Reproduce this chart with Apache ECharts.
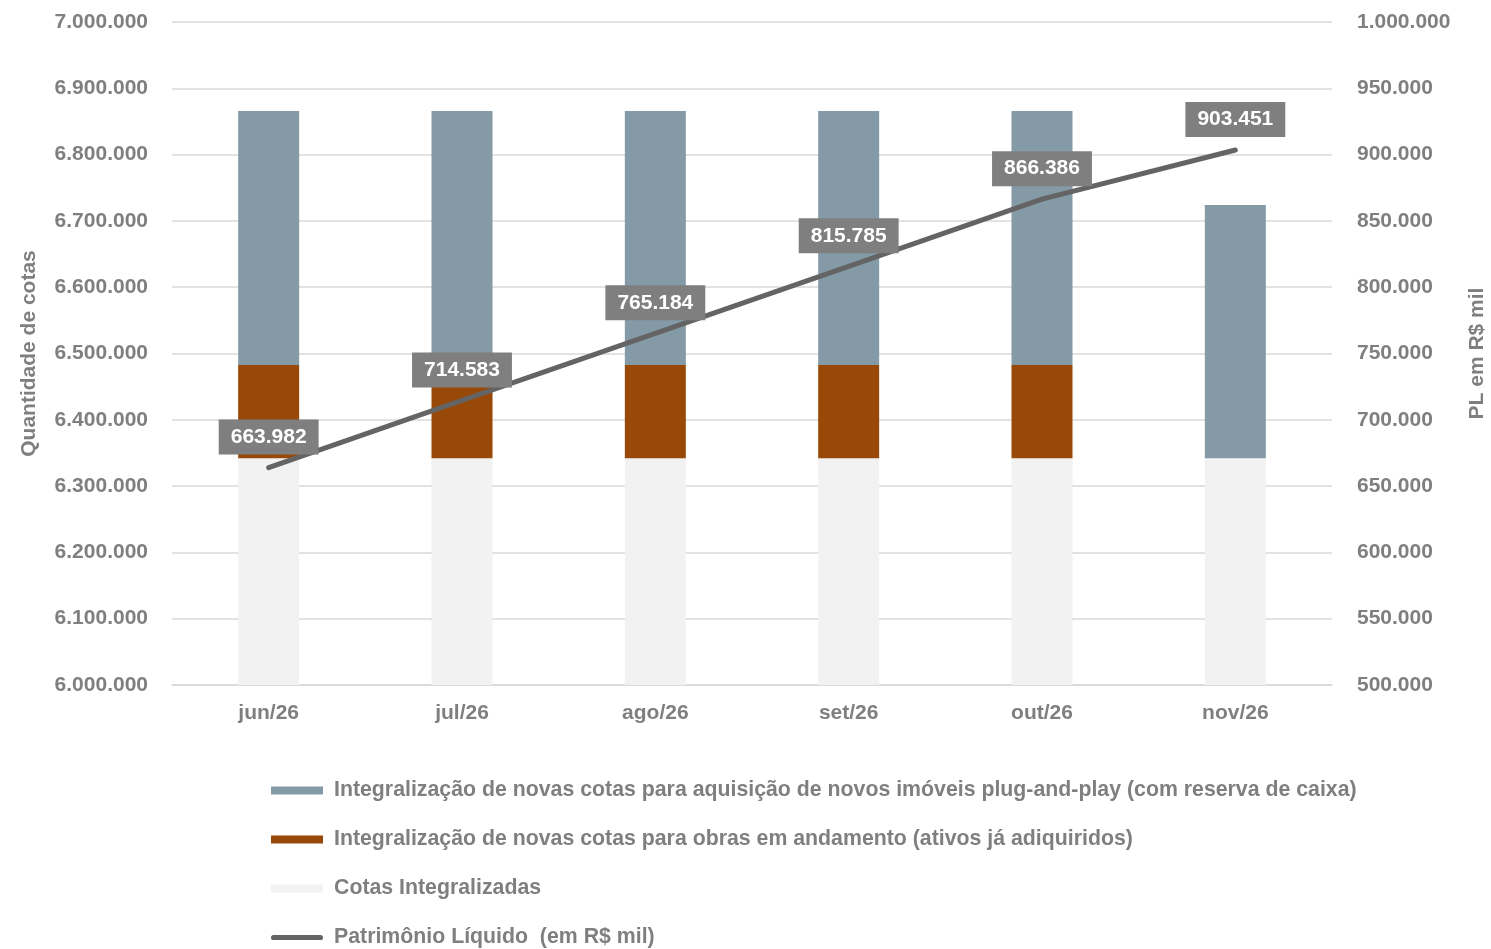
<!DOCTYPE html>
<html>
<head>
<meta charset="utf-8">
<script src="https://cdn.jsdelivr.net/npm/echarts@6/dist/echarts.min.js"></script>
<style>html,body{margin:0;padding:0;background:#fff}#c{width:1491px;height:949px}</style>
</head>
<body>
<div id="c"></div>
<script>
const categories = ['jun/26', 'jul/26', 'ago/26', 'set/26', 'out/26', 'nov/26'];
const cotasIntegralizadas = [6342000, 6342000, 6342000, 6342000, 6342000, 6342000];
const obrasAndamento = [140700, 140700, 140700, 140700, 140700, 0];
const novosImoveis = [383000, 383000, 383000, 383000, 383000, 382000];
const patrimonioLiquido = [663982, 714583, 765184, 815785, 866386, 903451];

const nameBlue = 'Integralização de novas cotas para aquisição de novos imóveis plug-and-play (com reserva de caixa)';
const nameOrange = 'Integralização de novas cotas para obras em andamento (ativos já adiquiridos)';
const nameGray = 'Cotas Integralizadas';
const nameLine = 'Patrimônio Líquido  (em R$ mil)';

function fmt(v) {
  return String(Math.round(v)).replace(/\B(?=(\d{3})+(?!\d))/g, '.');
}
const FONT = 'Arial, "Liberation Sans", sans-serif';
const GRAY = '#7f7f7f';
const LINE_ICON = 'path://M0,0 M52,8 M2.5,1.4 L49.5,1.4 A2.6,2.6 0 0 1 49.5,6.6 L2.5,6.6 A2.6,2.6 0 0 1 2.5,1.4 Z';

const chart = echarts.init(document.getElementById('c'), null, {renderer: 'canvas'});
chart.setOption({
  animation: false,
  textStyle: {fontFamily: FONT},
  grid: {left: 172, right: 159, top: 22, bottom: 264, containLabel: false, outerBoundsMode: 'none'},
  legend: {
    orient: 'vertical',
    left: 271,
    top: 780,
    padding: 0,
    itemGap: 28,
    itemWidth: 52,
    itemHeight: 8,
    textStyle: {color: GRAY, fontSize: 21.3, fontWeight: 'bold', fontFamily: FONT, padding: [0, 0, 0, 6]},
    data: [
      {name: nameBlue, icon: 'rect'},
      {name: nameOrange, icon: 'rect'},
      {name: nameGray, icon: 'rect'},
      {name: nameLine, icon: LINE_ICON}
    ]
  },
  xAxis: {
    type: 'category',
    data: categories,
    axisLine: {lineStyle: {color: '#d9d9d9', width: 1.5}},
    axisTick: {show: false},
    axisLabel: {color: GRAY, fontSize: 21, fontWeight: 'bold', margin: 18, fontFamily: FONT}
  },
  yAxis: [
    {
      type: 'value', min: 6000000, max: 7000000, interval: 100000,
      name: 'Quantidade de cotas', nameLocation: 'middle', nameGap: 132, nameRotate: 90,
      nameTextStyle: {color: GRAY, fontSize: 21, fontWeight: 'bold', fontFamily: FONT},
      axisLine: {show: false}, axisTick: {show: false},
      axisLabel: {color: GRAY, fontSize: 21, fontWeight: 'bold', margin: 24, formatter: fmt, fontFamily: FONT},
      splitLine: {lineStyle: {color: '#d9d9d9', width: 1.5}}
    },
    {
      type: 'value', min: 500000, max: 1000000, interval: 50000,
      name: 'PL em R$ mil', nameLocation: 'middle', nameGap: 135, nameRotate: 90,
      nameTextStyle: {color: GRAY, fontSize: 21, fontWeight: 'bold', fontFamily: FONT},
      axisLine: {show: false}, axisTick: {show: false},
      axisLabel: {color: GRAY, fontSize: 21, fontWeight: 'bold', margin: 25, formatter: fmt, fontFamily: FONT},
      splitLine: {show: false}
    }
  ],
  series: [
    {
      name: nameGray, type: 'bar', stack: 'q', barWidth: 61,
      itemStyle: {color: '#f2f2f2'}, data: cotasIntegralizadas
    },
    {
      name: nameOrange, type: 'bar', stack: 'q', barWidth: 61,
      itemStyle: {color: '#984807'}, data: obrasAndamento
    },
    {
      name: nameBlue, type: 'bar', stack: 'q', barWidth: 61,
      itemStyle: {color: '#849aa7'}, data: novosImoveis
    },
    {
      name: nameLine, type: 'line', yAxisIndex: 1, symbol: 'circle', symbolSize: 0.01, showSymbol: true, z: 5,
      lineStyle: {color: '#646464', width: 5, cap: 'round'},
      itemStyle: {color: '#646464'},
      label: {
        show: true, position: 'top', distance: 13, offset: [2, 0],
        backgroundColor: '#7f7f7f', color: '#fff', fontSize: 21, fontWeight: 'bold',
        fontFamily: FONT, padding: [7, 12, 7, 12], lineHeight: 21,
        formatter: p => fmt(p.value)
      },
      labelLayout: {hideOverlap: false},
      data: patrimonioLiquido
    }
  ]
});
</script>
</body>
</html>
